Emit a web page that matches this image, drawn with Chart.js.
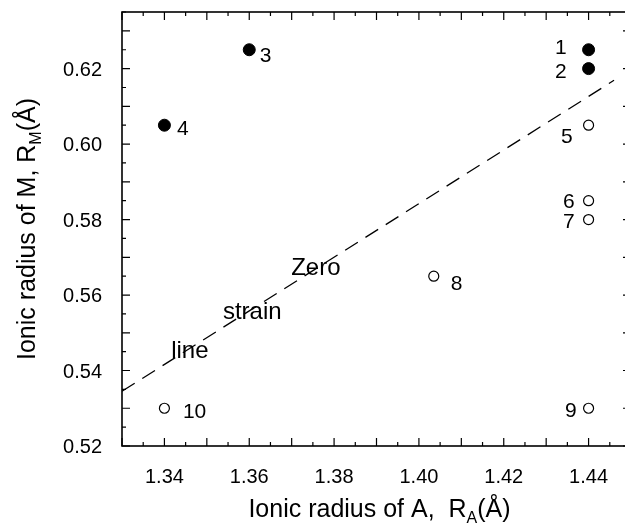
<!DOCTYPE html>
<html><head><meta charset="utf-8">
<script src="https://cdn.jsdelivr.net/npm/chart.js@4"></script>
<style>
html,body{margin:0;padding:0;background:#fff;overflow:hidden;width:625px;height:526px}
#wrap{position:absolute;left:0;top:0;width:640px;height:526px}
</style>
</head><body><div id="wrap"><canvas id="c" width="640" height="526"></canvas></div>
<script>
// ---- data ----
const filledX = [1.44, 1.44, 1.36, 1.34];
const filledY = [0.625, 0.620, 0.625, 0.605];
const filledLabels = ['1', '2', '3', '4'];
const openX = [1.44, 1.44, 1.44, 1.4035, 1.44, 1.34];
const openY = [0.605, 0.585, 0.580, 0.565, 0.530, 0.530];
const openLabels = ['5', '6', '7', '8', '9', '10'];
const zeroStrainX = [1.33, 1.446];
const zeroStrainY = [0.5345, 0.6169];
const noteTexts = ['Zero', 'strain', 'line'];
const noteX = [1.3757, 1.3607, 1.3460];
const noteY = [0.5676, 0.5558, 0.5457];
const xTickLabels = ['1.34', '1.36', '1.38', '1.40', '1.42', '1.44'];
const yTickLabels = ['0.52', '0.54', '0.56', '0.58', '0.60', '0.62'];

// ---- label placement (pixel offsets, kept apart from data) ----
const filledLabelPos = [[-22, -3, 'right'], [-22, 1.5, 'right'], [10.5, 4.5, 'left'], [12.5, 2, 'left']];
const openLabelPos = [[-16, 10.7, 'right'], [-14, 0, 'right'], [-14, 1, 'right'], [17, 6, 'left'], [-12, 1.5, 'right'], [18.5, 2.5, 'left']];

const FONT = '"Liberation Sans", Arial, Helvetica, sans-serif';

function pts(xs, ys) { return xs.map((x, i) => ({x: x, y: ys[i]})); }
function pickLabel(list, v) {
  for (const s of list) { if (Math.abs(parseFloat(s) - v) < 1e-6) return s; }
  return '';
}

const decor = {
  id: 'decor',
  afterDraw(chart) {
    const ctx = chart.ctx, a = chart.chartArea, xs = chart.scales.x, ys = chart.scales.y;
    ctx.save();
    ctx.strokeStyle = '#000';
    ctx.lineWidth = 1.6;
    ctx.strokeRect(a.left, a.top, a.right - a.left, a.bottom - a.top);
    ctx.lineWidth = 1.2;
    ctx.beginPath();
    xs.ticks.forEach(t => {
      const p = xs.getPixelForValue(t.value);
      const major = Math.abs(Math.round(t.value * 1000) % 10) === 0;
      const L = major ? 8 : 4;
      ctx.moveTo(p, a.bottom); ctx.lineTo(p, a.bottom - L);
      ctx.moveTo(p, a.top); ctx.lineTo(p, a.top + L);
    });
    ys.ticks.forEach(t => {
      const p = ys.getPixelForValue(t.value);
      const major = Math.abs(Math.round(t.value * 1000) % 10) === 0;
      const L = major ? 8 : 4;
      ctx.moveTo(a.left, p); ctx.lineTo(a.left + L, p);
      ctx.moveTo(a.right, p); ctx.lineTo(a.right - L, p);
    });
    ctx.stroke();

    ctx.fillStyle = '#000';
    // tick labels from the library's ticks
    ctx.font = '20px ' + FONT;
    ctx.textBaseline = 'alphabetic';
    ctx.textAlign = 'center';
    xs.ticks.forEach(t => {
      const s = pickLabel(xTickLabels, t.value);
      if (s) ctx.fillText(s, xs.getPixelForValue(t.value), a.bottom + 37);
    });
    ctx.textAlign = 'right';
    ys.ticks.forEach(t => {
      const s = pickLabel(yTickLabels, t.value);
      if (s) ctx.fillText(s, a.left - 20, ys.getPixelForValue(t.value) + 20 * 0.358);
    });

    // point labels
    ctx.font = '21px ' + FONT;
    const drawLabels = (X, Y, labs, pos) => {
      labs.forEach((s, i) => {
        const px = xs.getPixelForValue(X[i]), py = ys.getPixelForValue(Y[i]);
        ctx.textAlign = pos[i][2];
        ctx.fillText(s, px + pos[i][0], py + pos[i][1] + 21 * 0.358);
      });
    };
    drawLabels(filledX, filledY, filledLabels, filledLabelPos);
    drawLabels(openX, openY, openLabels, openLabelPos);

    // notes
    ctx.font = '24px ' + FONT;
    ctx.textAlign = 'center';
    noteTexts.forEach((s, i) => {
      ctx.fillText(s, xs.getPixelForValue(noteX[i]), ys.getPixelForValue(noteY[i]) + 24 * 0.358);
    });

    // axis titles with subscripts
    const drawTitle = (main, sub, tail, cx, cy, rot) => {
      ctx.save();
      ctx.translate(cx, cy);
      ctx.rotate(rot);
      ctx.textAlign = 'left';
      ctx.font = '25px ' + FONT;
      const w1 = ctx.measureText(main).width;
      const w3 = ctx.measureText(tail).width;
      ctx.font = '16px ' + FONT;
      const w2 = ctx.measureText(sub).width;
      const total = w1 + w2 + w3;
      let x = -total / 2;
      ctx.font = '25px ' + FONT;
      ctx.fillText(main, x, 0); x += w1;
      ctx.font = '16px ' + FONT;
      ctx.fillText(sub, x, 6); x += w2;
      ctx.font = '25px ' + FONT;
      ctx.fillText(tail, x, 0);
      ctx.restore();
    };
    drawTitle('Ionic radius of A,  R', 'A', '(\u00C5)', (a.left + a.right) / 2 + 3, 517, 0);
    drawTitle('Ionic radius of M, R', 'M', '(\u00C5)', 35, (a.top + a.bottom) / 2, -Math.PI / 2);
    ctx.restore();
  }
};

new Chart(document.getElementById('c'), {
  data: {
    datasets: [
      { type: 'line', data: pts(zeroStrainX, zeroStrainY), borderColor: '#000', borderWidth: 1.3,
        borderDash: [15, 9], pointRadius: 0, fill: false, tension: 0 },
      { type: 'scatter', data: pts(filledX, filledY), pointStyle: 'circle', pointRadius: 6,
        backgroundColor: '#000', borderColor: '#000', borderWidth: 1 },
      { type: 'scatter', data: pts(openX, openY), pointStyle: 'circle', pointRadius: 5,
        backgroundColor: '#fff', borderColor: '#000', borderWidth: 1.2 }
    ]
  },
  options: {
    responsive: false, animation: false, devicePixelRatio: 1,
    layout: { padding: { left: 0, right: 9, top: 12, bottom: 0 } },
    plugins: { legend: { display: false }, tooltip: { enabled: false } },
    scales: {
      x: {
        type: 'linear', min: 1.33, max: 1.45,
        grid: { display: false, drawTicks: false }, border: { display: false },
        ticks: { display: false, stepSize: 0.005, autoSkip: false, maxRotation: 0 },
        afterFit: s => { s.height = 80; }
      },
      y: {
        type: 'linear', min: 0.52, max: 0.635,
        grid: { display: false, drawTicks: false }, border: { display: false },
        ticks: { display: false, stepSize: 0.005, autoSkip: false },
        afterFit: s => { s.width = 122; }
      }
    }
  },
  plugins: [decor]
});
</script>
</body></html>
